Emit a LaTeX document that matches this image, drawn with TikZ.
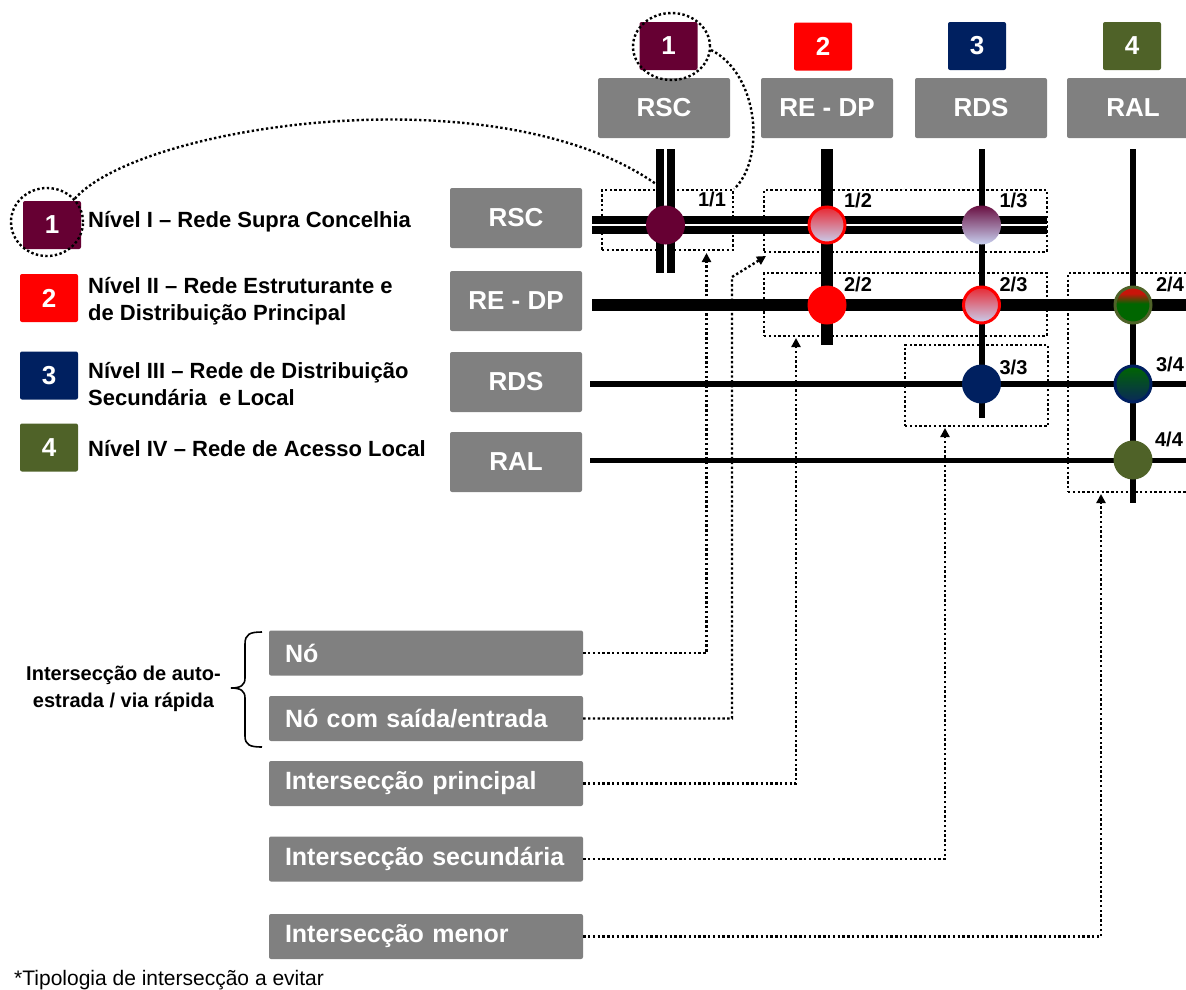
\documentclass[tikz,border=0pt]{standalone}
\usepackage{fontspec}
\setmainfont{Liberation Sans}
\usetikzlibrary{arrows.meta,shapes.geometric}
\definecolor{gbg}{RGB}{128,128,128}
\definecolor{cmar}{RGB}{102,0,51}
\definecolor{cred}{RGB}{255,0,0}
\definecolor{cnavy}{RGB}{0,32,96}
\definecolor{colive}{RGB}{79,98,40}
\definecolor{dkg}{RGB}{0,102,0}
\definecolor{lav}{RGB}{200,208,240}
\definecolor{dred}{RGB}{200,20,10}
\definecolor{shred}{RGB}{232,40,50}
\definecolor{shmar}{RGB}{105,15,65}
\definecolor{shnavy}{RGB}{10,40,90}
\pgfdeclareverticalshading{rgshade}{100bp}{color(0bp)=(dkg); color(52bp)=(dkg); color(66bp)=(dred); color(100bp)=(dred)}
\begin{document}
\begin{tikzpicture}[x=1pt,y=-1pt,
 gbox/.style={fill=gbg, rounded corners=2pt, inner sep=0pt, text=white, font=\bfseries\fontsize{26}{31}\selectfont, minimum width=132pt, minimum height=60pt},
 lbox/.style={fill=gbg, rounded corners=2pt, inner ysep=0pt, inner xsep=16pt, text=white, font=\bfseries\fontsize{25}{30}\selectfont, text width=282pt, align=left, minimum height=45pt},
 numbox/.style={rounded corners=2pt, inner sep=0pt, minimum width=58pt, minimum height=48pt, text=white, font=\bfseries\fontsize{26}{31}\selectfont},
 legtxt/.style={anchor=west, inner sep=0pt, align=left, font=\bfseries\fontsize{22}{27}\selectfont},
 dbox/.style={draw, line width=2.4pt, dash pattern=on 2.4pt off 2.4pt, inner sep=0pt},
 dotline/.style={line width=2.4pt, dash pattern=on 2.4pt off 2.4pt},
 conn/.style={dotline, -{Triangle[width=9pt,length=9pt]}},
 isec/.style={circle, inner sep=0pt, minimum size=39pt},
 isecb/.style={circle, inner sep=0pt, minimum size=36pt, line width=3pt},
 fraclbl/.style={inner sep=0pt, font=\bfseries\fontsize{20}{24}\selectfont},
 road/.style={line width=#1},
]
\useasboundingbox (0,0) rectangle (1186,989);
\clip (0,0) rectangle (1186,989);

% top column headers
\node[numbox, fill=cmar] (t1) at (668.5,46) {1};
\node[numbox, fill=cred] (t2) at (823,46.5) {2};
\node[numbox, fill=cnavy] (t3) at (977,46) {3};
\node[numbox, fill=colive] (t4) at (1132,46) {4};
\node[gbox] (cRSC) at (664,108) {RSC};
\node[gbox] (cRE) at (827,108) {RE - DP};
\node[gbox] (cRDS) at (981,108) {RDS};
\node[gbox] (cRAL) at (1133,108) {RAL};

% row headers
\node[gbox] (rRSC) at (516,218) {RSC};
\node[gbox] (rRE) at (516,301) {RE - DP};
\node[gbox] (rRDS) at (516,382) {RDS};
\node[gbox] (rRAL) at (516,462) {RAL};

% legend
\node[numbox, fill=cmar] (l1) at (52,225) {1};
\node[numbox, fill=cred] (l2) at (49,298) {2};
\node[numbox, fill=cnavy] (l3) at (49,375.5) {3};
\node[numbox, fill=colive] (l4) at (49,447.5) {4};
\node[legtxt] (lt1) at (88,222) {Nível I – Rede Supra Concelhia};
\node[legtxt] (lt2) at (88,301.5) {Nível II – Rede Estruturante e\\de Distribuição Principal};
\node[legtxt] (lt3) at (88,384) {Nível III – Rede de Distribuição\\Secundária\ \ e Local};
\node[legtxt] (lt4) at (88,449) {Nível IV – Rede de Acesso Local};

% dotted boxes
\node[dbox, minimum width=131pt, minimum height=60pt] (b11) at (667.5,220) {};
\node[dbox, minimum width=283pt, minimum height=62pt] (b12) at (905.5,221) {};
\node[dbox, minimum width=283pt, minimum height=63pt] (b22) at (905.5,304.5) {};
\node[dbox, minimum width=143pt, minimum height=81pt] (b33) at (976.5,385.5) {};
\node[dbox, minimum width=132pt, minimum height=219pt] (b24) at (1134,382.5) {};

% roads
\draw[road=18] (592,225) -- (1047,225);
\draw[road=19] (665.5,149) -- (665.5,273);
\draw[road=12] (827,149) -- (827,345);
\draw[road=12] (592,305) -- (1195,305);
\draw[road=6] (981.5,149) -- (981.5,418);
\draw[road=6] (590,384) -- (1195,384);
\draw[road=5.5] (1133,149) -- (1133,503);
\draw[road=5] (590,460) -- (1195,460);
\draw[road=2.4, white] (592,225) -- (1047,225);
\draw[road=2.4, white] (665.5,149) -- (665.5,273);

% intersections
\node[isec, fill=cmar] (i11) at (665.5,225) {};
\node[isecb, draw=cred, top color=shred, bottom color=lav] (i12) at (827,225) {};
\node[isec, top color=shmar, bottom color=lav] (i13) at (981.5,225) {};
\node[isec, fill=cred] (i22) at (827,305) {};
\node[isecb, draw=cred, top color=shred, bottom color=lav] (i23) at (981.5,305) {};
\node[isecb, draw=colive, shade, shading=rgshade] (i24) at (1133,305) {};
\node[isec, fill=cnavy] (i33) at (981.5,384) {};
\node[isecb, draw=cnavy, top color=dkg, bottom color=shnavy] (i34) at (1133,384) {};
\node[isec, fill=colive] (i44) at (1133,460) {};

% intersection labels
\node[fraclbl] (f11) at (712,199) {1/1};
\node[fraclbl] (f12) at (858,200) {1/2};
\node[fraclbl] (f13) at (1013.5,200) {1/3};
\node[fraclbl] (f22) at (858,284) {2/2};
\node[fraclbl] (f23) at (1013.5,284) {2/3};
\node[fraclbl] (f24) at (1170,284) {2/4};
\node[fraclbl] (f33) at (1013.5,367) {3/3};
\node[fraclbl] (f34) at (1170,364) {3/4};
\node[fraclbl] (f44) at (1169,439) {4/4};

% dotted highlight ellipses and curves
\node[ellipse, dbox, minimum width=77pt, minimum height=67pt] (te) at (671.5,46.5) {};
\node[ellipse, dbox, minimum width=72pt, minimum height=68pt] (le) at (47,222) {};
\coordinate (rscv) at (656,184);
\draw[dotline] (te.-5) .. controls (760,75) and (765,160) .. (b11.north east);
\draw[dotline] (le.40) .. controls (140,125) and (496,72) .. (rscv);

% bottom label boxes
\node[lbox] (lno) at (426,653) {Nó};
\node[lbox] (lnose) at (426,718.5) {Nó com saída/entrada};
\node[lbox] (lip) at (426,783.5) {Intersecção principal};
\node[lbox] (lis) at (426,859) {Intersecção secundária};
\node[lbox] (lim) at (426,936.5) {Intersecção menor};

% brace and its label
\draw[line width=1.6pt] (262,632) .. controls (250,632) and (245,634) .. (245,644) -- (245,678) .. controls (245,685) and (241,688) .. (231,688) .. controls (241,688) and (245,691) .. (245,698) -- (245,736) .. controls (245,745) and (250,747) .. (262,747);
\node[inner sep=0pt, align=center, font=\bfseries\fontsize{20}{27}\selectfont] (autoest) at (123.5,688.5) {Intersecção de auto-\\estrada / via rápida};

% connectors
\coordinate (a11) at (706.5,253);
\coordinate (k12) at (732,277);
\coordinate (a12) at (766,256);
\coordinate (a22) at (796,338);
\coordinate (a33) at (945,428);
\coordinate (a24) at (1101,494);
\draw[conn] (lno.east) -| (a11);
\draw[conn] (lnose.east) -| (k12) -- (a12);
\draw[conn] (lip.east) -| (a22);
\draw[conn] (lis.east) -| (a33);
\draw[conn] (lim.east) -| (a24);

% footnote
\node[anchor=base west, inner sep=0pt, font=\fontsize{21}{25}\selectfont] (foot) at (14,985) {*Tipologia de intersecção a evitar};
\end{tikzpicture}
\end{document}
